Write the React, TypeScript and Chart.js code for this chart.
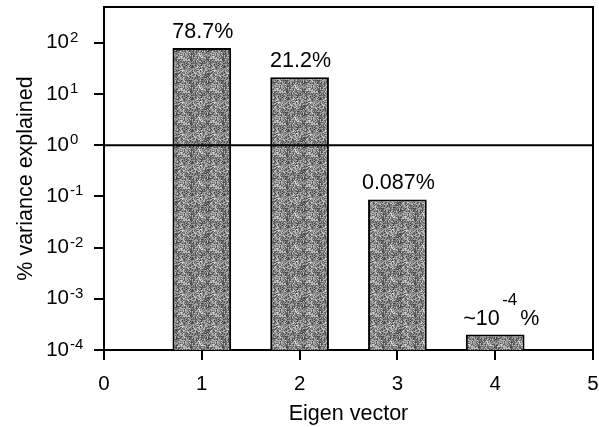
import React, { useEffect, useRef } from 'react';
import { Chart, registerables } from 'chart.js';

Chart.register(...registerables);

// ---- data ----
const eigenVectors = [1, 2, 3, 4];
const varianceExplained = [78.7, 21.2, 0.087, 0.0002];
const barLabelParts: string[][] = [['78.7%'], ['21.2%'], ['0.087%'], ['~10', '-4', '%']];
const yTickExponents = [-4, -3, -2, -1, 0, 1, 2];
const xTickValues = [0, 1, 2, 3, 4, 5];
const referenceLevel = 1;
const xTitle = 'Eigen vector';
const yTitle = '% variance explained';

const FONT = "'Liberation Sans', Arial, Helvetica, sans-serif";

function makePattern(): CanvasPattern | string {
  const n = 32;
  const c = document.createElement('canvas');
  c.width = n;
  c.height = n;
  const g = c.getContext('2d');
  if (!g) return '#858585';
  const img = g.createImageData(n, n);
  for (let j = 0; j < n; j++) {
    for (let i = 0; i < n; i++) {
      let h = (Math.imul(i + 1, 374761393) + Math.imul(j + 7, 668265263)) >>> 0;
      h = Math.imul(h ^ (h >>> 13), 1274126177) >>> 0;
      h = (h ^ (h >>> 16)) >>> 0;
      // soft light blotches on a fixed lattice
      const bi = ((i % 16) - 8) / 8;
      const bj = ((j % 16) - 8) / 8;
      const blotch = Math.max(0, 1 - (bi * bi + bj * bj)) * 30;
      const v = Math.min(235, 55 + (h % 140) + blotch);
      const k = (j * n + i) * 4;
      img.data[k] = v;
      img.data[k + 1] = v;
      img.data[k + 2] = v;
      img.data[k + 3] = 255;
    }
  }
  g.putImageData(img, 0, 0);
  return g.createPattern(c, 'repeat') || '#858585';
}

export default function App() {
  const ref = useRef<HTMLCanvasElement>(null);

  useEffect(() => {
    const canvas = ref.current;
    if (!canvas) return;
    const pattern = makePattern();

    const annotate = {
      id: 'annotate',
      afterDatasetsDraw(chart: any) {
        const ctx = chart.ctx;
        const meta = chart.getDatasetMeta(1);
        ctx.save();
        ctx.fillStyle = '#000';
        meta.data.forEach((el: any, i: number) => {
          const parts = barLabelParts[i];
          const cx = el.x;
          const top = el.y;
          if (parts.length === 1) {
            ctx.font = `21.5px ${FONT}`;
            ctx.textAlign = 'center';
            ctx.textBaseline = 'alphabetic';
            ctx.fillText(parts[0], cx + 1, top - 10);
          } else {
            ctx.textAlign = 'left';
            ctx.textBaseline = 'alphabetic';
            ctx.font = `21.5px ${FONT}`;
            ctx.fillText(parts[0], cx - 32, top - 10);
            ctx.font = `17px ${FONT}`;
            ctx.fillText(parts[1], cx + 7, top - 30);
            ctx.font = `21.5px ${FONT}`;
            ctx.fillText(parts[2], cx + 25, top - 10);
          }
        });
        ctx.restore();
      },
      afterDraw(chart: any) {
        const ctx = chart.ctx;
        const a = chart.chartArea;
        ctx.save();
        ctx.strokeStyle = '#000';
        ctx.lineWidth = 2;
        ctx.beginPath();
        ctx.moveTo(a.left - 1, a.top);
        ctx.lineTo(a.right, a.top);
        ctx.lineTo(a.right, a.bottom + 1);
        ctx.stroke();
        // y tick labels with superscript exponents
        const ys = chart.scales.y;
        ctx.fillStyle = '#000';
        yTickExponents.forEach((e) => {
          const py = ys.getPixelForValue(Math.pow(10, e));
          ctx.font = `20.5px ${FONT}`;
          ctx.textAlign = 'right';
          ctx.textBaseline = 'middle';
          ctx.fillText('10', a.left - 35, py);
          ctx.font = `15px ${FONT}`;
          ctx.textAlign = 'left';
          ctx.textBaseline = 'alphabetic';
          ctx.fillText(String(e), a.left - 34, py - 1);
        });
        ctx.restore();
      },
    };

    const chart = new Chart(canvas, {
      type: 'bar',
      data: {
        datasets: [
          {
            type: 'line',
            data: [
              { x: xTickValues[0], y: referenceLevel },
              { x: xTickValues[xTickValues.length - 1], y: referenceLevel },
            ],
            borderColor: '#000',
            borderWidth: 2,
            pointRadius: 0,
            order: 0,
          } as any,
          {
            type: 'bar',
            data: eigenVectors.map((x, i) => ({ x, y: varianceExplained[i] })),
            backgroundColor: pattern as any,
            borderColor: '#000',
            borderWidth: 2,
            barPercentage: 0.6,
            categoryPercentage: 1,
            order: 1,
          } as any,
        ],
      },
      options: {
        animation: false,
        responsive: true,
        maintainAspectRatio: false,
        layout: { padding: { top: 7, right: 6, left: 0, bottom: 0 } },
        plugins: {
          legend: { display: false },
          tooltip: { enabled: false },
        },
        scales: {
          x: {
            type: 'linear',
            min: xTickValues[0],
            max: xTickValues[xTickValues.length - 1],
            offset: false,
            ticks: {
              stepSize: 1,
              color: '#000',
              font: { family: FONT, size: 20.5 },
              padding: 12,
              maxRotation: 0,
            },
            grid: {
              drawOnChartArea: false,
              drawTicks: true,
              tickLength: 10,
              color: '#000',
              lineWidth: 2,
              offset: false,
            },
            border: { display: true, color: '#000', width: 2 },
            title: {
              display: true,
              text: xTitle,
              color: '#000',
              font: { family: FONT, size: 21.5 },
              padding: { top: 3, bottom: 0 },
            },
            afterFit(s: any) {
              s.height = 77;
              s.paddingLeft = 0;
              s.paddingRight = 0;
            },
          } as any,
          y: {
            type: 'logarithmic',
            min: 1e-4,
            max: 500,
            afterBuildTicks(s: any) {
              s.ticks = yTickExponents.map((e) => ({ value: Math.pow(10, e) }));
            },
            ticks: { display: false },
            grid: {
              drawOnChartArea: false,
              drawTicks: true,
              tickLength: 10,
              color: '#000',
              lineWidth: 2,
            },
            border: { display: true, color: '#000', width: 2 },
            title: {
              display: true,
              text: yTitle,
              color: '#000',
              font: { family: FONT, size: 21.5 },
              padding: { top: 13, bottom: 0 },
            },
            afterFit(s: any) {
              s.width = 104;
              s.paddingTop = 0;
              s.paddingBottom = 0;
            },
          } as any,
        },
      },
      plugins: [annotate],
    });

    return () => chart.destroy();
  }, []);

  return (
    <div style={{ position: 'fixed', left: 0, top: 0, width: 599, height: 427, background: '#fff' }}>
      <canvas ref={ref} />
    </div>
  );
}
